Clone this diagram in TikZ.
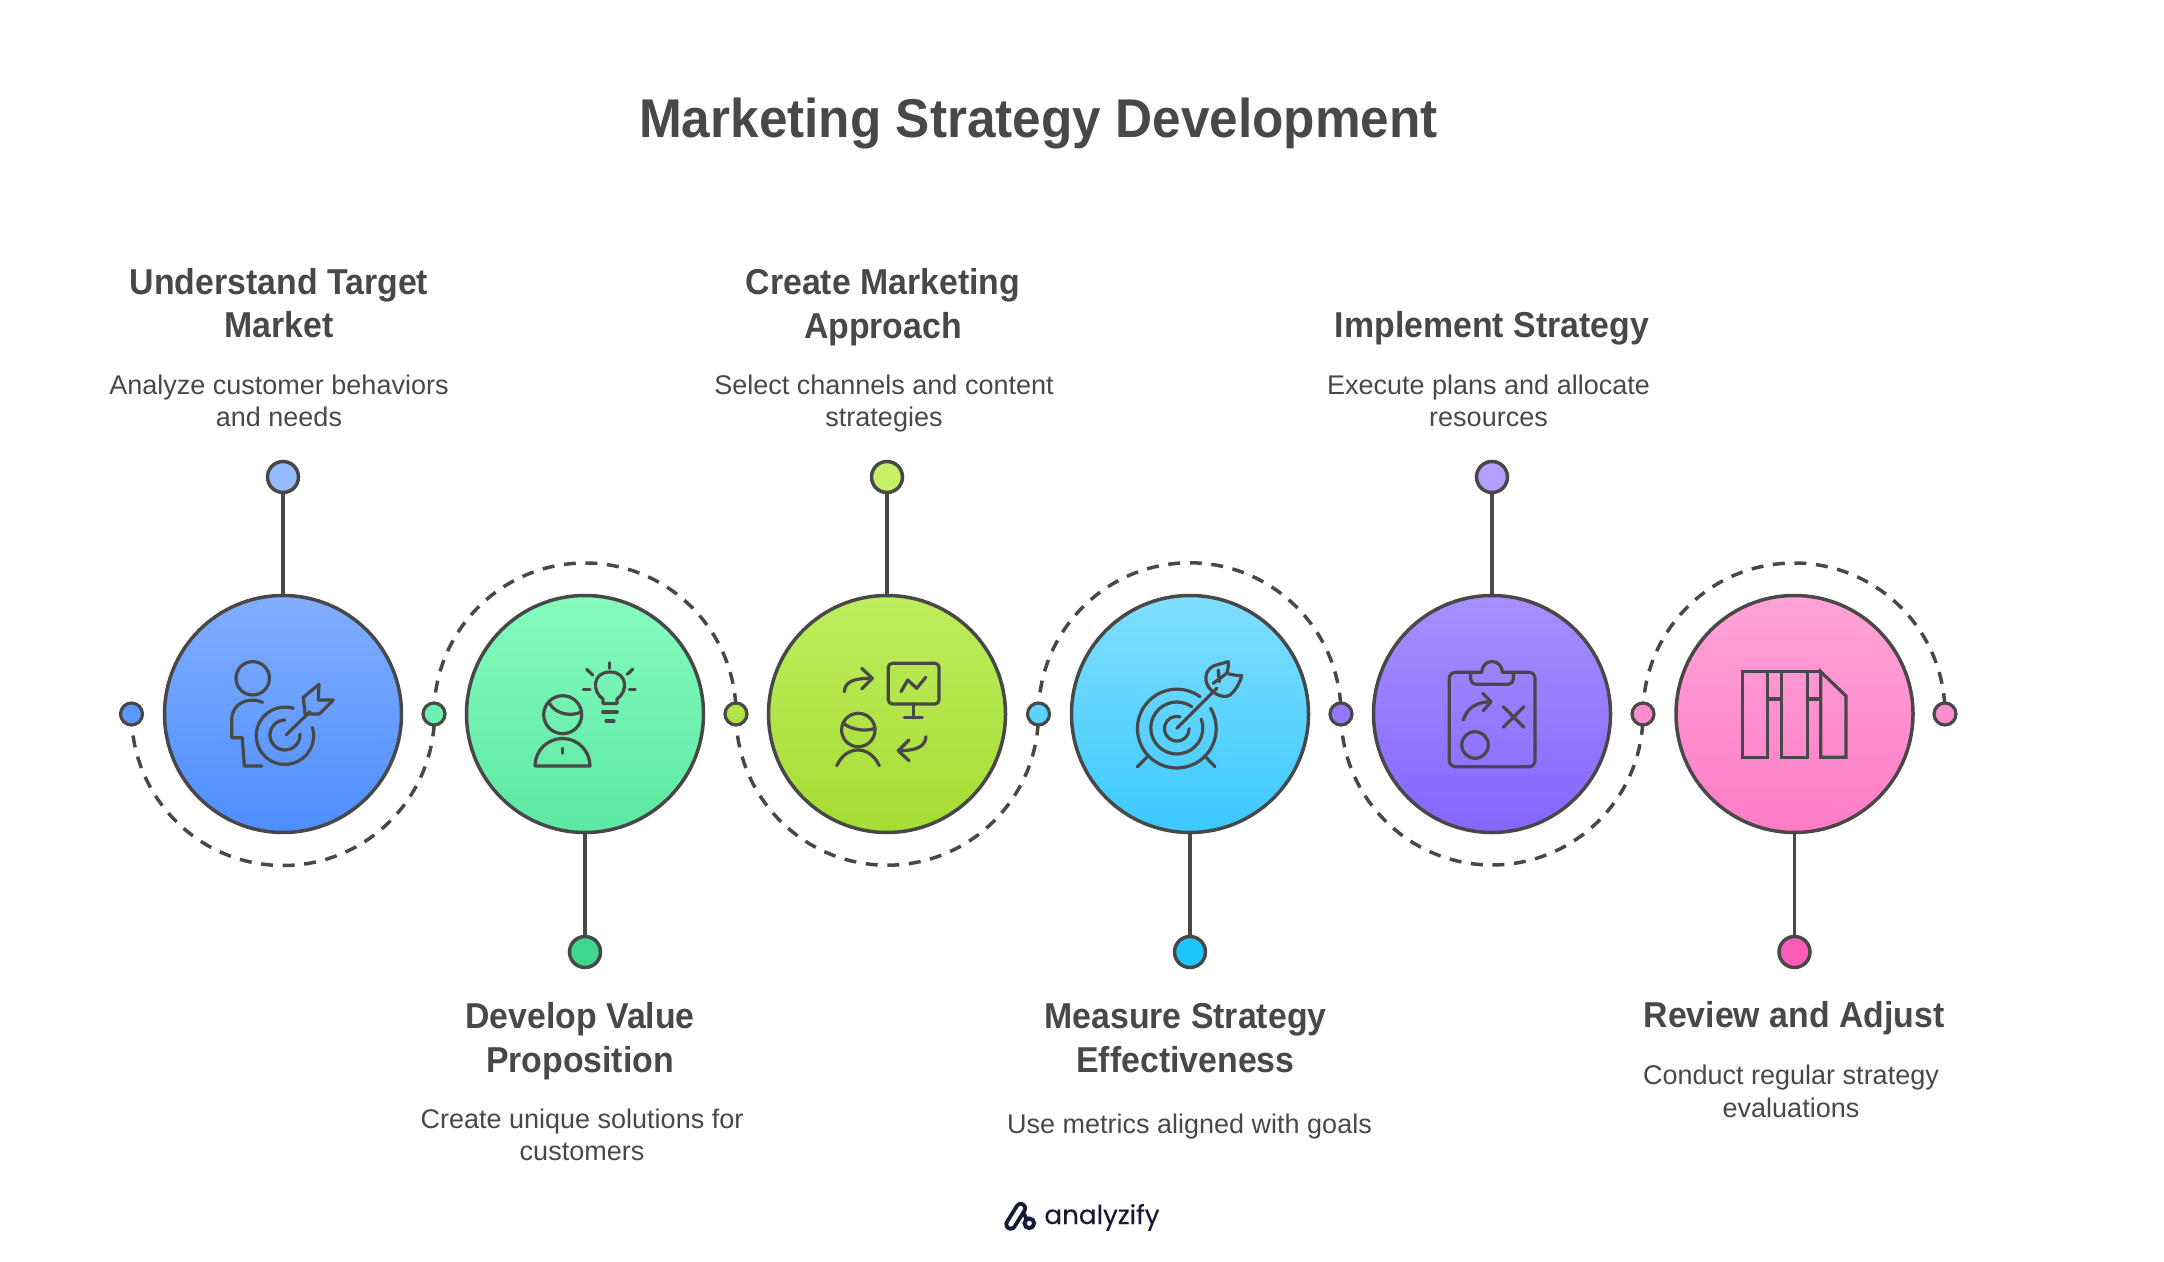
\documentclass[tikz,border=0pt]{standalone}
\usepackage{fontspec}
\setmainfont[BoldFeatures={FakeStretch=0.94}]{Liberation Sans}
\newfontfamily\logofont[FakeBold=0.25]{Poppins}
\definecolor{ink}{HTML}{484848}
\definecolor{navy}{HTML}{161A38}
\tikzset{
  heading/.style={font=\fontsize{18}{21.75}\selectfont\bfseries, text=ink, align=center, inner sep=0pt},
  bodytext/.style={font=\fontsize{13.5}{16.25}\selectfont, text=ink, align=center, inner sep=0pt},
  bigcircle/.style={circle, draw=ink, line width=1.75pt, minimum size=118.5pt, inner sep=0pt},
  enddot/.style={circle, draw=ink, line width=1.75pt, minimum size=15.5pt, inner sep=0pt},
  sidedot/.style={circle, draw=ink, line width=1.6pt, minimum size=11pt, inner sep=0pt},
  stem/.style={draw=ink, line width=1.75pt},
  track/.style={draw=ink, line width=1.75pt, dash pattern=on 6pt off 4.8pt},
  icon/.style={draw=ink, line width=1.6pt, line cap=round, line join=round},
}
\begin{document}
\begin{tikzpicture}[x=0.5pt,y=0.5pt]
\useasboundingbox (0,-1262) rectangle (2164,0);

% side dots
\foreach \n/\x in {1/131.5,2/434,3/736,4/1038.5,5/1341,6/1643,7/1945}
  \path (\x,-714) coordinate (d\n);

% dashed track
\draw [track] (d1) arc [start angle=180, end angle=360, radius=75.75pt];
\draw [track] (d2) arc [start angle=180, end angle=0, radius=75.5pt];
\draw [track] (d3) arc [start angle=180, end angle=360, radius=75.6pt];
\draw [track] (d4) arc [start angle=180, end angle=0, radius=75.6pt];
\draw [track] (d5) arc [start angle=180, end angle=360, radius=75.5pt];
\draw [track] (d6) arc [start angle=180, end angle=0, radius=75.5pt];

\foreach \n/\c in {1/5C97FF,2/6EF0AE,3/B2E345,4/5CD2FF,5/9478FF,6/FF8CCD,7/FF8CCD} {
  \definecolor{dotc}{HTML}{\c}
  \node [sidedot, fill=dotc] (s\n) at (d\n) {};
}

% big circles
\definecolor{t1}{HTML}{82AEFF}\definecolor{b1}{HTML}{4D8EFF}
\definecolor{t2}{HTML}{85FBBD}\definecolor{b2}{HTML}{5CE8A3}
\definecolor{t3}{HTML}{BDEE5E}\definecolor{b3}{HTML}{A6DC33}
\definecolor{t4}{HTML}{80DFFF}\definecolor{b4}{HTML}{3CC8FF}
\definecolor{t5}{HTML}{A78FFF}\definecolor{b5}{HTML}{8566FF}
\definecolor{t6}{HTML}{FFA3D9}\definecolor{b6}{HTML}{FF7CC6}
\foreach \n/\x in {1/283,2/585,3/887,4/1190,5/1492,6/1794.5}
  \node [bigcircle, top color=t\n, bottom color=b\n] (c\n) at (\x,-714) {};

% end dots and stems
\definecolor{e1}{HTML}{94BAFF}\definecolor{e2}{HTML}{3ED98F}
\definecolor{e3}{HTML}{C8F066}\definecolor{e4}{HTML}{1EC5FF}
\definecolor{e5}{HTML}{B3A0FF}\definecolor{e6}{HTML}{FF5BB8}
\foreach \n/\x in {1/283,3/887,5/1492} {
  \node [enddot, fill=e\n] (e\n) at (\x,-477) {};
  \draw [stem] (c\n) -- (e\n);
}
\foreach \n/\x in {2/585,4/1190,6/1794.5} {
  \node [enddot, fill=e\n] (e\n) at (\x,-952) {};
  \draw [stem] (c\n) -- (e\n);
}

% person with target
\begin{scope}[shift={(210,-640)},icon,y=-0.5pt]
\draw (42.7,38.3) circle [radius=8.35pt];
\draw (52.7,62.3) .. controls (37,56) and (21.7,64) .. (21.7,80) -- (21.7,97.7) -- (32.3,97.7) -- (34.3,126) -- (51.7,126);
\draw (83.3,68.3) arc [start angle=73, end angle=377, radius=14.35pt];
\draw (75,80) arc [start angle=90, end angle=364, radius=7.5pt];
\draw (76,95) -- (100,71.7);
\draw (93.3,57.3) -- (109,44.3) -- (108.3,60) -- (123.3,60) -- (109.3,74) -- (95,74) -- cycle;
\end{scope}

% person with bulb
\begin{scope}[shift={(510,-640)},icon,y=-0.5pt]
\draw (93,63.5) -- (107,63.5) -- (107,59) .. controls (118,52) and (118,32) .. (100,32) .. controls (82,32) and (82,52) .. (93,59) -- cycle;
\draw (99.3,22.7) -- (99.3,28.3);
\draw (76.7,29.3) -- (82.7,35);
\draw (122.7,29.3) -- (117.3,34.3);
\draw (73.3,49.7) -- (80,49.7);
\draw (119.3,49.7) -- (125.3,49.7);
\draw (92.7,72) -- (107.3,72);
\draw (96,81) -- (104,81);
\draw (52.7,74.7) circle [radius=9.5pt];
\draw (39.3,63.3) .. controls (46.7,75) and (61.7,76.7) .. (71.7,71.7);
\draw (25,126) -- (80,126) arc [start angle=0, end angle=180, radius=13.75pt];
\draw (52.3,108.3) -- (52.3,113.3);
\end{scope}

% person with screen
\begin{scope}[shift={(815,-640)},icon,y=-0.5pt]
\draw (29.3,51.7) .. controls (30,41.7) and (38.3,38.3) .. (56.7,38.3);
\draw (46.7,28.3) -- (57.3,38.3) -- (46.7,49);
\draw [rounded corners=2pt] (73.3,23.3) rectangle (124,64);
\draw (98.3,64) -- (98.3,77.7);
\draw (89.3,77.7) -- (107.3,77.7);
\draw (86,51.7) -- (92.7,40) -- (101.7,48.3) -- (110.7,37.3);
\draw (43.3,90) circle [radius=8.35pt];
\draw (28.3,83.3) .. controls (36.7,90) and (50,91.7) .. (60,88.3);
\draw (21.7,125.7) .. controls (26.7,115) and (35,110) .. (43,110) .. controls (51,110) and (59.3,115) .. (64.3,125.7);
\draw (111,96.7) .. controls (110,106.7) and (101.7,110.7) .. (83.3,110.7);
\draw (94,100) -- (83.3,110.7) -- (94,120.7);
\end{scope}

% dartboard
\begin{scope}[shift={(1120,-640)},icon,y=-0.5pt]
\draw (80,56.7) arc [start angle=54, end angle=391, radius=19.7pt];
\draw (71.7,66.7) arc [start angle=55, end angle=380, radius=13pt];
\draw (60,76.7) arc [start angle=75, end angle=360, radius=6.2pt];
\draw (56.7,88.3) -- (96.7,48.3);
\draw (95,53.3) .. controls (85,47) and (83,35) .. (90,28.3) .. controls (95,24) and (102,24) .. (108.3,21.7) .. controls (108.7,25) and (108,30) .. (106.7,33.3) .. controls (110,34.5) and (116,35.5) .. (121.7,35.7) .. controls (120,43) and (116,50) .. (110,55) .. controls (105,58) and (100,56) .. (95,53.3);
\draw (93.3,43.3) -- (106.7,33.3);
\draw (98.3,30) -- (99.3,41.7);
\draw (17.3,126.7) -- (28.3,115.7);
\draw (95,126.7) -- (84.3,115.7);
\end{scope}

% clipboard
\begin{scope}[shift={(1420,-640)},icon,y=-0.5pt]
\draw [rounded corners=3pt] (50.7,32.3) -- (29.3,32.3) -- (29.3,126.7) -- (115,126.7) -- (115,32.3) -- (93.3,32.3);
\draw [rounded corners=2.5pt] (50.7,32.3) -- (50.7,44.3) -- (93.3,44.3) -- (93.3,32.3);
\draw (50.7,32.3) -- (61.7,32.3) .. controls (62,26) and (66,21.5) .. (72,21.5) .. controls (78,21.5) and (82,26) .. (82.3,32.3) -- (93.3,32.3);
\draw (43.3,80) .. controls (46.7,68.3) and (56.7,61.7) .. (71,61.7);
\draw (62.7,53.3) -- (71,61.7) -- (63.3,70.7);
\draw (83.3,66.7) -- (104,87.3);
\draw (104,66.7) -- (83.3,87.3);
\draw (55,105) circle [radius=6.65pt];
\end{scope}

% blocks
\begin{scope}[shift={(1720,-640)},icon,y=-0.5pt,line cap=butt,line join=miter]
\draw (22.7,31.7) rectangle (47.3,117.3);
\draw (61.7,31.7) rectangle (87.3,117.3);
\draw (100.7,31.7) -- (126,56) -- (126,117.3) -- (100.7,117.3) -- cycle;
\draw (47.3,31.7) -- (100.7,31.7);
\draw (47.3,59) -- (61.7,59);
\draw (87.3,59) -- (100.7,59);
\end{scope}

% title and texts
\node [heading, font=\fontsize{27.3}{32}\selectfont\bfseries] (title) at (1038.5,-124) {Marketing Strategy Development};
\node [heading] (h1) at (279,-303) {Understand Target\\Market};
\node [bodytext] (b1) at (279,-401) {Analyze customer behaviors\\and needs};
\node [heading] (h2) at (580,-1041) {Develop Value\\Proposition};
\node [bodytext] (b2) at (582,-1135) {Create unique solutions for\\customers};
\node [heading] (h3) at (883,-307) {Create Marketing\\Approach};
\node [bodytext] (b3) at (884,-403.5) {Select channels and content\\strategies};
\node [heading] (h4) at (1185.5,-1038) {Measure Strategy\\Effectiveness};
\node [bodytext] (b4) at (1189.5,-1127) {Use metrics aligned with goals};
\node [heading] (h5) at (1492,-328) {Implement Strategy};
\node [bodytext] (b5) at (1488.5,-401) {Execute plans and allocate\\resources};
\node [heading] (h6) at (1794,-1018.5) {Review and Adjust};
\node [bodytext] (b6) at (1791,-1091.5) {Conduct regular strategy\\evaluations};

% logo
\draw [navy, line width=2pt, line cap=round] (1021.5,-1209) -- (1026.5,-1219);
\draw [navy, line width=2pt] (1029.3,-1223.3) circle [radius=2.4pt];
\draw [navy, line width=6.35pt, line cap=round] (1020.7,-1208.3) -- (1010.7,-1224.3);
\draw [white, line width=2.4pt, line cap=round] (1020.7,-1208.3) -- (1010.7,-1224.3);
\node [text=navy, font=\logofont\fontsize{13.1}{16}\selectfont, inner sep=0pt, anchor=base west] (logo) at (1044,-1224) {analyzify};
\end{tikzpicture}
\end{document}
